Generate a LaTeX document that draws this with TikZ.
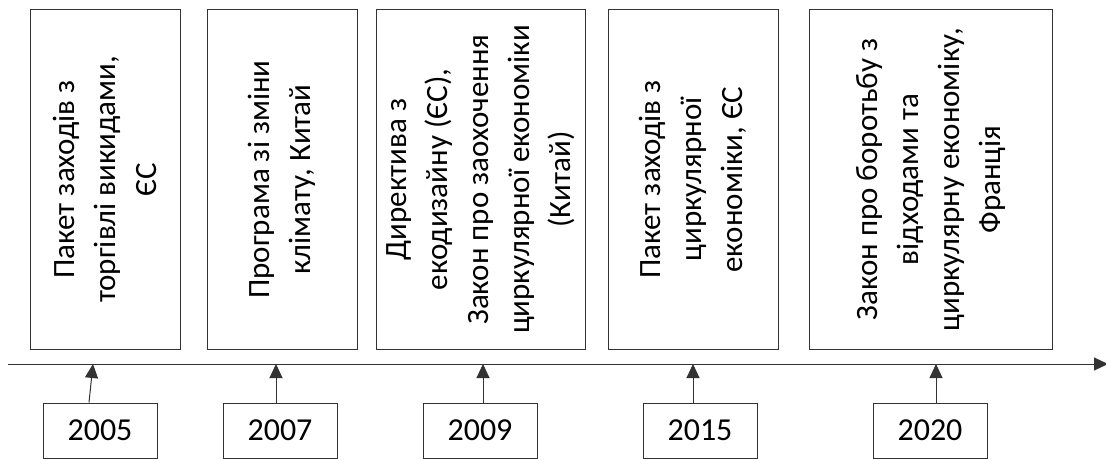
\documentclass[tikz,border=0pt]{standalone}
\usepackage{fontspec}
\setmainfont{Carlito}
\usepackage{tikz}
\usetikzlibrary{arrows.meta}
\tikzstyle{arrow} = [line width=1pt,draw=black!80,-{Triangle[width=13pt,length=14pt]}]

\begin{document}
\begin{tikzpicture}[x=1pt, y=1pt,
    event/.style={draw=black!80, line width=1pt, rotate=90, align=center, minimum width=339pt, inner sep=0pt, font=\fontsize{31}{41}\selectfont},
    year/.style={draw=black!80, line width=1pt, minimum width=114pt, minimum height=55pt, inner sep=0pt, font=\fontsize{32}{36}\selectfont}]
    \useasboundingbox (0, 0) rectangle (1106, 459);

    \node[event, minimum height=150pt] (ev2005) at (105, 279.5) {Пакет заходів з\\торгівлі викидами,\\ЄС};
    \node[event, minimum height=150pt] (ev2007) at (282, 279.5) {Програма зі зміни\\клімату, Китай};
    \node[event, minimum height=209pt] (ev2009) at (480.5, 279.5) {Директива з\\екодизайну (ЄС),\\Закон про заохочення\\циркулярної економіки\\(Китай)};
    \node[event, minimum height=170pt] (ev2015) at (693, 279.5) {Пакет заходів з\\циркулярної\\економіки, ЄС};
    \node[event, minimum height=243pt] (ev2020) at (930.5, 279.5) {Закон про боротьбу з\\відходами та\\циркулярну економіку,\\Франція};

    \coordinate (tlstart) at (8, 95);
    \coordinate (tlend) at (1108, 95);
    \draw[arrow] (tlstart) -- (tlend);

    \node[year] (y2005) at (100, 28.5) {2005};
    \node[year] (y2007) at (280, 28.5) {2007};
    \node[year] (y2009) at (480, 28.5) {2009};
    \node[year] (y2015) at (700, 28.5) {2015};
    \node[year] (y2020) at (930, 28.5) {2020};

    \draw[arrow] ([xshift=-11pt]y2005.north) -- ([xshift=-7pt]y2005.north |- tlstart);
    \draw[arrow] ([xshift=-4pt]y2007.north) -- ([xshift=-4pt]y2007.north |- tlstart);
    \draw[arrow] ([xshift=3pt]y2009.north) -- ([xshift=3pt]y2009.north |- tlstart);
    \draw[arrow] ([xshift=-7pt]y2015.north) -- ([xshift=-7pt]y2015.north |- tlstart);
    \draw[arrow] ([xshift=6pt]y2020.north) -- ([xshift=6pt]y2020.north |- tlstart);
\end{tikzpicture}
\end{document}
